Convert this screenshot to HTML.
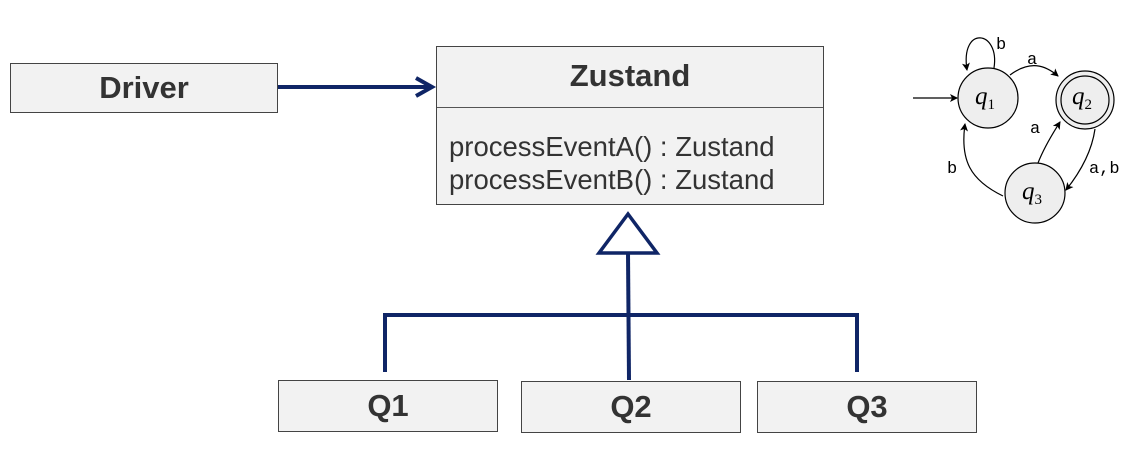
<!DOCTYPE html>
<html><head><style>
body{margin:0;background:#fff;width:1131px;height:452px;overflow:hidden;position:relative;font-family:"Liberation Sans",sans-serif}
.b{position:absolute;background:#f2f2f2;border:1.5px solid #444;box-sizing:border-box;color:#333;font-weight:bold;font-size:31px;display:flex;align-items:center;justify-content:center}
.mono{font-family:"Liberation Mono",monospace;font-size:17px}
.it{font-family:"Liberation Serif",serif;font-style:italic;font-size:25px}
</style></head><body>
<div class="b" style="left:10px;top:63px;width:268px;height:50px">Driver</div>
<div class="b" style="left:436px;top:46px;width:388px;height:159px;display:block">
<div style="height:60px;line-height:58px;text-align:center;border-bottom:1.5px solid #555;font-size:31px">Zustand</div>
<div style="font-weight:normal;font-size:27.5px;padding:22px 0 0 12px;line-height:33px;white-space:nowrap">processEventA() : Zustand<br>processEventB() : Zustand</div>
</div>
<div class="b" style="left:278px;top:380px;width:220px;height:52px">Q1</div>
<div class="b" style="left:521px;top:381px;width:220px;height:52px">Q2</div>
<div class="b" style="left:757px;top:381px;width:220px;height:52px">Q3</div>
<svg width="1131" height="452" style="position:absolute;left:0;top:0">
<g stroke="#0f2566" stroke-width="4" fill="none">
<line x1="278" y1="87" x2="430" y2="87"/>
<polyline points="416,78 432,87 416,96"/>
<polygon points="628,214 599,253 657,253" stroke-width="3.5"/>
<line x1="628" y1="253" x2="629" y2="380"/>
<polyline points="385,372 385,315 857,315 857,372"/>
</g>
<defs><marker id="m" markerWidth="8" markerHeight="8" refX="7" refY="4" orient="auto" markerUnits="userSpaceOnUse"><path d="M0,0 L8,4 L0,8 L2,4z" fill="#000"/></marker></defs>
<g stroke="#000" stroke-width="1.2" fill="none">
<circle cx="988" cy="98" r="30" fill="#eee"/>
<circle cx="1085" cy="100" r="29" fill="#eee"/>
<circle cx="1085" cy="100" r="24"/>
<circle cx="1035" cy="193" r="30" fill="#eee"/>
<line x1="913" y1="98" x2="957" y2="98" marker-end="url(#m)"/>
<path d="M994,68 C1000,30 960,25 967,70" marker-end="url(#m)"/>
<path d="M1010,75 C1030,60 1045,65 1058,76" marker-end="url(#m)"/>
<path d="M1038,163 C1045,145 1055,130 1060,122" marker-end="url(#m)"/>
<path d="M1095,129 C1092,150 1082,170 1066,190" marker-end="url(#m)"/>
<path d="M1003,196 C970,180 960,160 965,124" marker-end="url(#m)"/>
</g>
<g fill="#000">
<text class="mono" x="996" y="49">b</text><text class="mono" x="1027" y="64">a</text>
<text class="mono" x="1030" y="133">a</text><text class="mono" x="1089" y="173">a,b</text>
<text class="mono" x="947" y="173">b</text>
</g>
<g fill="#000">
<text class="it" x="975" y="104">q<tspan font-size="15" font-style="normal" dy="5">1</tspan></text>
<text class="it" x="1072" y="104">q<tspan font-size="15" font-style="normal" dy="5">2</tspan></text>
<text class="it" x="1022" y="199">q<tspan font-size="15" font-style="normal" dy="5">3</tspan></text>
</g>
</svg>
</body></html>
